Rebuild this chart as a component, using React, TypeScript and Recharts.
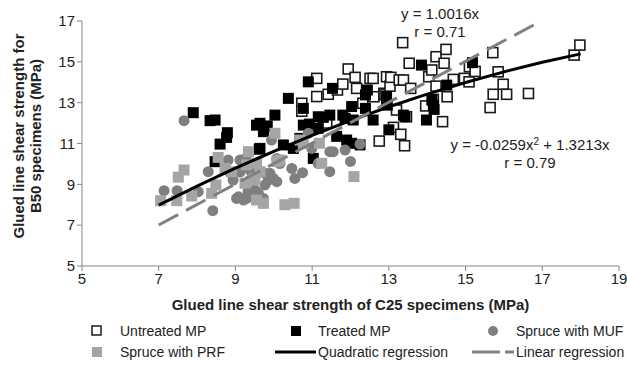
// Glued line shear strength: C25 vs B50 specimens

import { ScatterChart, Scatter, XAxis, YAxis, Legend, Label } from "recharts";

const untreatedMP = [
  [10.73, 12.97], [10.73, 12.58], [11.12, 14.19], [11.12, 13.3], [11.38, 12.0],
  [11.42, 13.41], [11.66, 13.62], [11.8, 13.91], [11.94, 14.65], [12.12, 14.24],
  [12.16, 13.7], [12.32, 12.97], [12.51, 14.19], [12.59, 14.19], [12.61, 13.29],
  [12.75, 11.12], [12.87, 13.46], [12.9, 13.38], [12.94, 14.27], [13.03, 13.81],
  [13.05, 14.24], [13.12, 11.79], [13.2, 12.64], [13.27, 14.11], [13.31, 11.45],
  [13.36, 15.94], [13.38, 14.11], [13.41, 10.89], [13.46, 12.31], [13.53, 14.93],
  [13.57, 13.7], [13.96, 12.84], [14.04, 14.27], [14.12, 14.6], [14.16, 13.16],
  [14.23, 15.25], [14.23, 13.81], [14.4, 12.07], [14.44, 14.93], [14.49, 15.61],
  [14.52, 13.29], [14.68, 14.14], [14.97, 14.19], [15.09, 14.02], [15.1, 14.76],
  [15.25, 14.53], [15.64, 12.76], [15.71, 15.45], [15.72, 13.41], [15.85, 14.51],
  [15.98, 13.9], [16.07, 13.41], [16.64, 13.45], [17.83, 15.33], [17.98, 15.82],
];

const treatedMP = [
  [7.9, 12.51], [8.34, 12.12], [8.47, 12.15], [8.47, 10.11], [8.6, 10.97],
  [8.77, 11.3], [8.79, 11.53], [9.55, 11.9], [9.62, 10.72], [9.64, 11.99],
  [9.64, 10.76], [9.73, 11.58], [9.77, 11.82], [9.83, 11.86], [10.03, 12.39],
  [10.25, 10.93], [10.38, 13.21], [10.51, 10.76], [10.68, 11.25], [10.77, 12.72],
  [10.77, 11.9], [10.9, 14.02], [10.93, 11.95], [11.03, 10.27], [11.16, 12.31],
  [11.16, 11.75], [11.29, 12.28], [11.46, 12.39], [11.53, 13.7], [11.64, 11.35],
  [11.8, 12.39], [11.86, 12.23], [11.9, 11.17], [12.03, 12.81], [12.03, 11.01],
  [12.07, 12.15], [12.25, 10.93], [12.39, 13.38], [12.39, 12.72], [12.44, 13.62],
  [12.59, 12.15], [12.94, 13.3], [12.94, 13.13], [12.96, 12.88], [13.0, 11.67],
  [13.38, 12.39], [13.42, 12.31], [13.85, 14.84], [13.98, 12.15], [14.12, 13.13],
  [14.16, 12.88], [14.18, 12.67], [14.51, 13.86], [15.18, 14.96],
];

const spruceMUF = [
  [7.14, 8.69], [7.48, 8.69], [7.66, 12.12], [8.03, 8.64], [8.29, 9.62],
  [8.41, 7.71], [8.81, 10.19], [8.86, 9.57], [8.94, 9.21], [9.03, 8.31],
  [9.08, 8.39], [9.12, 10.19], [9.12, 9.6], [9.21, 8.23], [9.27, 10.27],
  [9.29, 8.31], [9.33, 8.64], [9.38, 9.7], [9.38, 9.21], [9.51, 8.72],
  [9.55, 9.86], [9.6, 8.56], [9.73, 8.31], [9.77, 9.54], [9.77, 8.97],
  [9.86, 9.21], [9.9, 9.54], [9.94, 11.17], [9.99, 9.29], [10.08, 10.27],
  [10.08, 9.13], [10.16, 10.02], [10.47, 9.78], [10.55, 9.29], [10.75, 9.57],
  [10.9, 11.5], [10.99, 10.76], [11.16, 10.02], [11.46, 10.6], [11.55, 10.6],
  [11.46, 9.62], [11.86, 10.68], [12.0, 10.12], [12.25, 10.97],
];

const sprucePRF = [
  [7.05, 8.2], [7.47, 8.2], [7.51, 9.35], [7.66, 9.7], [7.86, 8.43],
  [8.38, 8.56], [8.49, 8.97], [8.55, 10.32], [8.73, 9.78], [8.9, 9.62],
  [9.25, 9.05], [9.29, 9.95], [9.34, 10.6], [9.47, 9.21], [9.51, 9.29],
  [9.55, 10.03], [9.55, 8.23], [9.64, 9.62], [9.73, 8.07], [10.03, 11.5],
  [10.08, 10.12], [10.16, 10.19], [10.29, 8.0], [10.53, 8.07], [10.68, 11.17],
  [10.77, 11.01], [11.19, 11.01], [11.25, 10.03], [12.09, 9.38],
];

// points
const quadraticFit = [
  [7, 7.98], [8, 8.91], [9, 9.79], [10, 10.62], [11, 11.4], [12, 12.12],
  [13, 12.8], [14, 13.42], [15, 13.99], [16, 14.51], [17, 14.98], [18, 15.39],
];
const linearFit = [[7, 7.01], [16.97, 17.0]];

const xTicks = [5, 7, 9, 11, 13, 15, 17, 19];
const yTicks = [5, 7, 9, 11, 13, 15, 17];

const toPts = (arr: number[][]) => arr.map(([x, y]) => ({ x, y }));

const font = "'Liberation Sans', Arial, sans-serif";

const openSquare = (p: any) => (
  <rect x={p.cx - 5} y={p.cy - 5} width={10} height={10} fill="#fff" stroke="#1a1a1a" strokeWidth={1.6} />
);
const blackSquare = (p: any) => (
  <rect x={p.cx - 5.5} y={p.cy - 5.5} width={11} height={11} fill="#000" />
);
const greyCircle = (p: any) => <circle cx={p.cx} cy={p.cy} r={5.5} fill="#7f7f7f" />;
const lightSquare = (p: any) => (
  <rect x={p.cx - 5.5} y={p.cy - 5.5} width={11} height={11} fill="#a5a5a5" />
);
const noDot = () => <g />;

function LegendBox() {
  const txt = { position: "absolute" as const, fontSize: 14, color: "#222", lineHeight: "16px" };
  return (
    <div style={{ position: "relative", width: 627, height: 50, fontFamily: font }}>
      <svg width={627} height={50} style={{ position: "absolute", left: 0, top: 0 }}>
        <rect x={92} y={6} width={9} height={9} fill="#fff" stroke="#1a1a1a" strokeWidth={1.5} />
        <rect x={291} y={6} width={10} height={10} fill="#000" />
        <circle cx={493} cy={11} r={5} fill="#7f7f7f" />
        <rect x={92} y={27} width={10} height={10} fill="#a5a5a5" />
        <line x1={275} y1={32} x2={316} y2={32} stroke="#000" strokeWidth={3} />
        <line x1={472} y1={32} x2={514} y2={32} stroke="#808080" strokeWidth={3} strokeDasharray="28 5 9" />
      </svg>
      <span style={{ ...txt, left: 120, top: 3 }}>Untreated MP</span>
      <span style={{ ...txt, left: 318, top: 3 }}>Treated MP</span>
      <span style={{ ...txt, left: 516, top: 3 }}>Spruce with MUF</span>
      <span style={{ ...txt, left: 120, top: 24 }}>Spruce with PRF</span>
      <span style={{ ...txt, left: 318, top: 24 }}>Quadratic regression</span>
      <span style={{ ...txt, left: 516, top: 24 }}>Linear regression</span>
    </div>
  );
}

const YTitle = () => (
  <text transform="translate(0,136) rotate(-90)" textAnchor="middle" fontFamily={font} fontSize={15} fontWeight="bold" fill="#222">
    <tspan x={0} y={24}>Glued line shear strength for</tspan>
    <tspan x={0} y={41}>B50 specimens (MPa)</tspan>
  </text>
);

export default function App() {
  return (
    <div style={{ position: "absolute", left: 0, top: 0, width: 627, height: 376, background: "#fff" }}>
      <ScatterChart width={627} height={376} margin={{ top: 21, right: 8, left: 0, bottom: 60 }}>
        <XAxis
          type="number"
          dataKey="x"
          domain={[5, 19]}
          ticks={xTicks}
          height={50}
          stroke="#868686"
          tickSize={5}
          tick={{ fill: "#222", fontSize: 15, fontFamily: font }}
        >
          <Label
            value="Glued line shear strength of C25 specimens (MPa)"
            position="insideBottom"
            offset={6}
            style={{ fontWeight: "bold", fontSize: 15, fontFamily: font, fill: "#222" }}
          />
        </XAxis>
        <YAxis
          type="number"
          dataKey="y"
          domain={[5, 17]}
          ticks={yTicks}
          width={82}
          stroke="#868686"
          tickSize={5}
          tick={{ fill: "#222", fontSize: 15, fontFamily: font }}
        >
          <Label content={YTitle} />
        </YAxis>
        <Scatter name="Untreated MP" data={toPts(untreatedMP)} shape={openSquare} isAnimationActive={false} />
        <Scatter name="Treated MP" data={toPts(treatedMP)} shape={blackSquare} isAnimationActive={false} />
        <Scatter name="Spruce with MUF" data={toPts(spruceMUF)} shape={greyCircle} isAnimationActive={false} />
        <Scatter name="Spruce with PRF" data={toPts(sprucePRF)} shape={lightSquare} isAnimationActive={false} />
        <Scatter
          name="Quadratic regression"
          data={toPts(quadraticFit)}
          shape={noDot}
          line={{ stroke: "#000", strokeWidth: 3 }}
          isAnimationActive={false}
        />
        <Scatter
          name="Linear regression"
          data={toPts(linearFit)}
          shape={noDot}
          line={{ stroke: "#808080", strokeWidth: 3, strokeDasharray: "22 9" }}
          isAnimationActive={false}
        />
        <text x={440} y={19} textAnchor="middle" fontFamily={font} fontSize={15} fill="#222">y = 1.0016x</text>
        <text x={440} y={37} textAnchor="middle" fontFamily={font} fontSize={15} fill="#222">r = 0.71</text>
        <text x={530} y={150} textAnchor="middle" fontFamily={font} fontSize={15} fill="#222">
          y = -0.0259x<tspan dy={-5} fontSize={10}>2</tspan><tspan dy={5}> + 1.3213x</tspan>
        </text>
        <text x={530} y={168} textAnchor="middle" fontFamily={font} fontSize={15} fill="#222">r = 0.79</text>
        <Legend
          layout="vertical"
          align="center"
          verticalAlign="middle"
          content={LegendBox}
          wrapperStyle={{ top: 320, left: 0, width: 627, height: 50 }}
        />
      </ScatterChart>
    </div>
  );
}
